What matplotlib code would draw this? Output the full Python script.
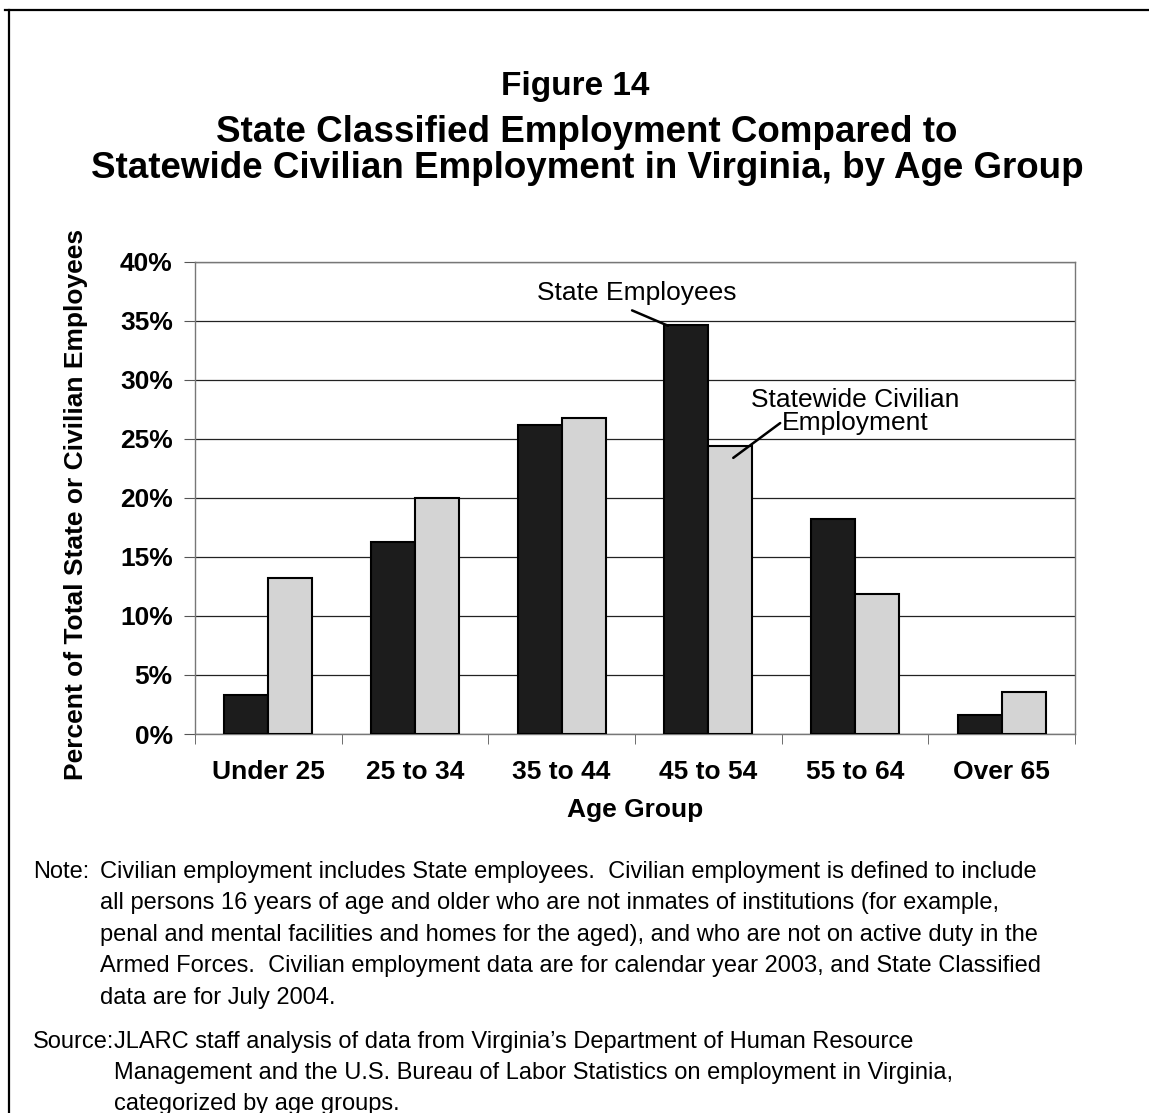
import matplotlib
matplotlib.use("Agg")
import matplotlib.pyplot as plt
import numpy as np
from matplotlib.lines import Line2D

plt.rcParams['font.family'] = ['Liberation Sans', 'DejaVu Sans']

categories = ["Under 25", "25 to 34", "35 to 44", "45 to 54", "55 to 64", "Over 65"]
state_employees = [3.3, 16.3, 26.2, 34.7, 18.2, 1.6]
civilian_employment = [13.2, 20.0, 26.8, 24.4, 11.9, 3.6]
yticks = [0, 5, 10, 15, 20, 25, 30, 35, 40]
ytick_labels = ["0%", "5%", "10%", "15%", "20%", "25%", "30%", "35%", "40%"]

W, H = 1149, 1113
fig = plt.figure(figsize=(W / 100, H / 100), dpi=100)

def fx(px):
    return px / W

def fy(py):
    return 1 - py / H

# outer border (top and left)
fig.add_artist(Line2D([fx(5), fx(1149)], [fy(10), fy(10)], color='black', lw=1.6, transform=fig.transFigure))
fig.add_artist(Line2D([fx(9), fx(9)], [fy(10), fy(1113)], color='black', lw=1.6, transform=fig.transFigure))

# titles
fig.text(fx(575), fy(87), "Figure 14", ha='center', va='center', fontsize=24, fontweight='bold')
fig.text(fx(587), fy(133), "State Classified Employment Compared to", ha='center', va='center', fontsize=26.5, fontweight='bold')
fig.text(fx(587), fy(168), "Statewide Civilian Employment in Virginia, by Age Group", ha='center', va='center', fontsize=26.5, fontweight='bold')

ax = fig.add_axes([fx(195), fy(734), fx(1075) - fx(195), (734 - 262) / H])
x = np.arange(len(categories))
w = 0.3
ax.bar(x - w / 2, state_employees, w, color='#1c1c1c', edgecolor='black', linewidth=1.5, zorder=3)
ax.bar(x + w / 2, civilian_employment, w, color='#d4d4d4', edgecolor='black', linewidth=1.5, zorder=3)

ax.set_xlim(-0.5, len(categories) - 0.5)
ax.set_ylim(0, 40)
ax.set_yticks(yticks)
ax.set_yticklabels(ytick_labels, fontsize=19, fontweight='bold')
ax.yaxis.grid(True, color='#222222', lw=0.9, zorder=0)
ax.set_axisbelow(True)

ax.set_xticks(x)
ax.set_xticklabels(categories, fontsize=19, fontweight='bold')
ax.tick_params(axis='x', length=0, pad=19)
ax.set_xticks(np.arange(-0.5, len(categories)), minor=True)
ax.tick_params(axis='x', which='minor', length=7, color='#555555', direction='out')
ax.tick_params(axis='y', length=8, color='#555555', pad=8)

for s in ax.spines.values():
    s.set_color('#777777')
    s.set_linewidth(1.0)

fig.text(fx(635), fy(810), "Age Group", ha='center', va='center', fontsize=19, fontweight='bold')
fig.text(fx(76), fy(504), "Percent of Total State or Civilian Employees", ha='center', va='center',
         rotation=90, fontsize=19, fontweight='bold')

# callouts
ax.text(2.51, 37.4, "State Employees", ha='center', va='center', fontsize=19)
ax.annotate("", xy=(2.725, 34.6), xytext=(2.48, 35.9),
            arrowprops=dict(arrowstyle='-', color='black', lw=1.8, shrinkA=0, shrinkB=0))
ax.text(4.0, 27.3, "Statewide Civilian\nEmployment", ha='center', va='center', fontsize=19, linespacing=0.95)
ax.annotate("", xy=(3.17, 23.4), xytext=(3.49, 26.35),
            arrowprops=dict(arrowstyle='-', color='black', lw=1.8, shrinkA=0, shrinkB=0))

note_lines = [
    "Civilian employment includes State employees.  Civilian employment is defined to include",
    "all persons 16 years of age and older who are not inmates of institutions (for example,",
    "penal and mental facilities and homes for the aged), and who are not on active duty in the",
    "Armed Forces.  Civilian employment data are for calendar year 2003, and State Classified",
    "data are for July 2004.",
]
source_lines = [
    "JLARC staff analysis of data from Virginia\u2019s Department of Human Resource",
    "Management and the U.S. Bureau of Labor Statistics on employment in Virginia,",
    "categorized by age groups.",
]
fs_note = 17
fig.text(fx(33), fy(878), "Note:", ha='left', va='baseline', fontsize=fs_note)
for i, line in enumerate(note_lines):
    fig.text(fx(100), fy(878 + i * 31.4), line, ha='left', va='baseline', fontsize=fs_note)
fig.text(fx(33), fy(1048), "Source:", ha='left', va='baseline', fontsize=fs_note)
for i, line in enumerate(source_lines):
    fig.text(fx(114), fy(1048 + i * 31.0), line, ha='left', va='baseline', fontsize=fs_note)

fig.savefig("out.png", dpi=100)
